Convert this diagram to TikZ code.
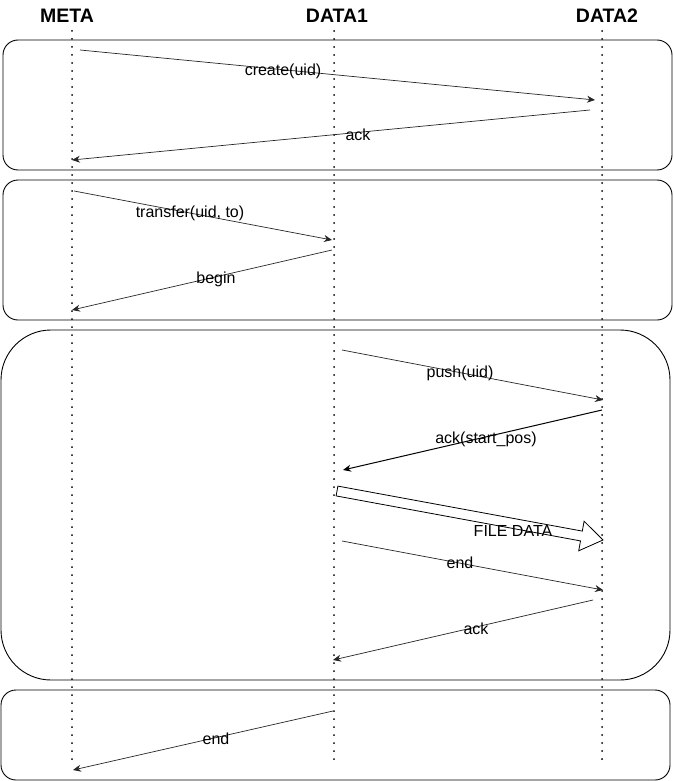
\documentclass[tikz,border=0pt]{standalone}
\usepackage{fontspec}
\setmainfont{Liberation Sans}
\usetikzlibrary{arrows.meta}
\begin{document}
\begin{tikzpicture}[x=1pt,y=-1pt,
  header/.style={font=\fontsize{19.5}{21}\selectfont\bfseries, inner sep=0pt},
  lbl/.style={font=\fontsize{16}{18}\selectfont, inner sep=0pt},
  lifeline/.style={line width=2pt, line cap=round, dash pattern=on 0pt off 8pt},
  frame/.style={draw=black, line width=0.9pt},
  msg/.style={draw=black!85, line width=0.7pt, -{Stealth[length=8pt,width=7pt]}},
  msgbold/.style={draw=black, line width=1pt, -{Stealth[length=8pt,width=7pt]}},
  fat/.style={draw=black, line width=0.8pt, fill=white, line join=miter}
]
\useasboundingbox (0,0) rectangle (673,781);

% participants
\node[header] (meta)  at (67,16)  {META};
\node[header] (data1) at (337,16) {DATA1};
\node[header] (data2) at (607,16) {DATA2};

% phase frames
\draw[frame, rounded corners=15pt] (3,40)  rectangle (672,170);
\draw[frame, rounded corners=15pt] (3,180) rectangle (672,320);
\draw[frame, rounded corners=50pt] (1,330) rectangle (670,680);
\draw[frame, rounded corners=15pt] (1,690) rectangle (670,780);

% lifelines
\coordinate (metaTop)  at (72,31);  \coordinate (metaBot)  at (72,762);
\coordinate (d1Top)    at (334,31); \coordinate (d1Bot)    at (334,762);
\coordinate (d2Top)    at (602,31); \coordinate (d2Bot)    at (602,762);
\draw[lifeline] (metaTop) -- (metaBot);
\draw[lifeline] (d1Top) -- (d1Bot);
\draw[lifeline] (d2Top) -- (d2Bot);

% create
\coordinate (c1) at (80,50);   \coordinate (c2) at (595,100);
\draw[msg] (c1) -- (c2);
\node[lbl] (createlbl) at (283,71) {create(uid)};
\coordinate (a1) at (590,110); \coordinate (a2) at (72,160);
\draw[msg] (a1) -- (a2);
\node[lbl] (acklbl1) at (358,135) {ack};

% transfer
\coordinate (t1) at (74,191);  \coordinate (t2) at (332,240);
\draw[msg] (t1) -- (t2);
\node[lbl] (transferlbl) at (190,213) {transfer(uid, to)};
\coordinate (b1) at (332,250); \coordinate (b2) at (72,310);
\draw[msg] (b1) -- (b2);
\node[lbl] (beginlbl) at (216,279) {begin};

% push
\coordinate (p1) at (342,350); \coordinate (p2) at (603,400);
\draw[msg] (p1) -- (p2);
\node[lbl] (pushlbl) at (460,373) {push(uid)};
\coordinate (s1) at (602,410); \coordinate (s2) at (343,470);
\draw[msgbold] (s1) -- (s2);
\node[lbl] (startlbl) at (486,439) {ack(start\_pos)};

% file data transfer
\draw[fat] (337.9,486.1) -- (582.3,531.1) -- (584.1,521.2) -- (603,540)
  -- (578.7,550.8) -- (580.5,540.9) -- (336.1,495.9) -- cycle;
\node[lbl] (filelbl) at (513,531) {FILE DATA};

% end of stream
\coordinate (e1) at (342,541); \coordinate (e2) at (603,590);
\draw[msg] (e1) -- (e2);
\node[lbl] (endlbl1) at (460,563) {end};
\coordinate (k1) at (593,600); \coordinate (k2) at (333,660);
\draw[msg] (k1) -- (k2);
\node[lbl] (acklbl2) at (476,629) {ack};

% final end
\coordinate (f1) at (333,711); \coordinate (f2) at (73,770);
\draw[msg] (f1) -- (f2);
\node[lbl] (endlbl2) at (216,739) {end};
\end{tikzpicture}
\end{document}
